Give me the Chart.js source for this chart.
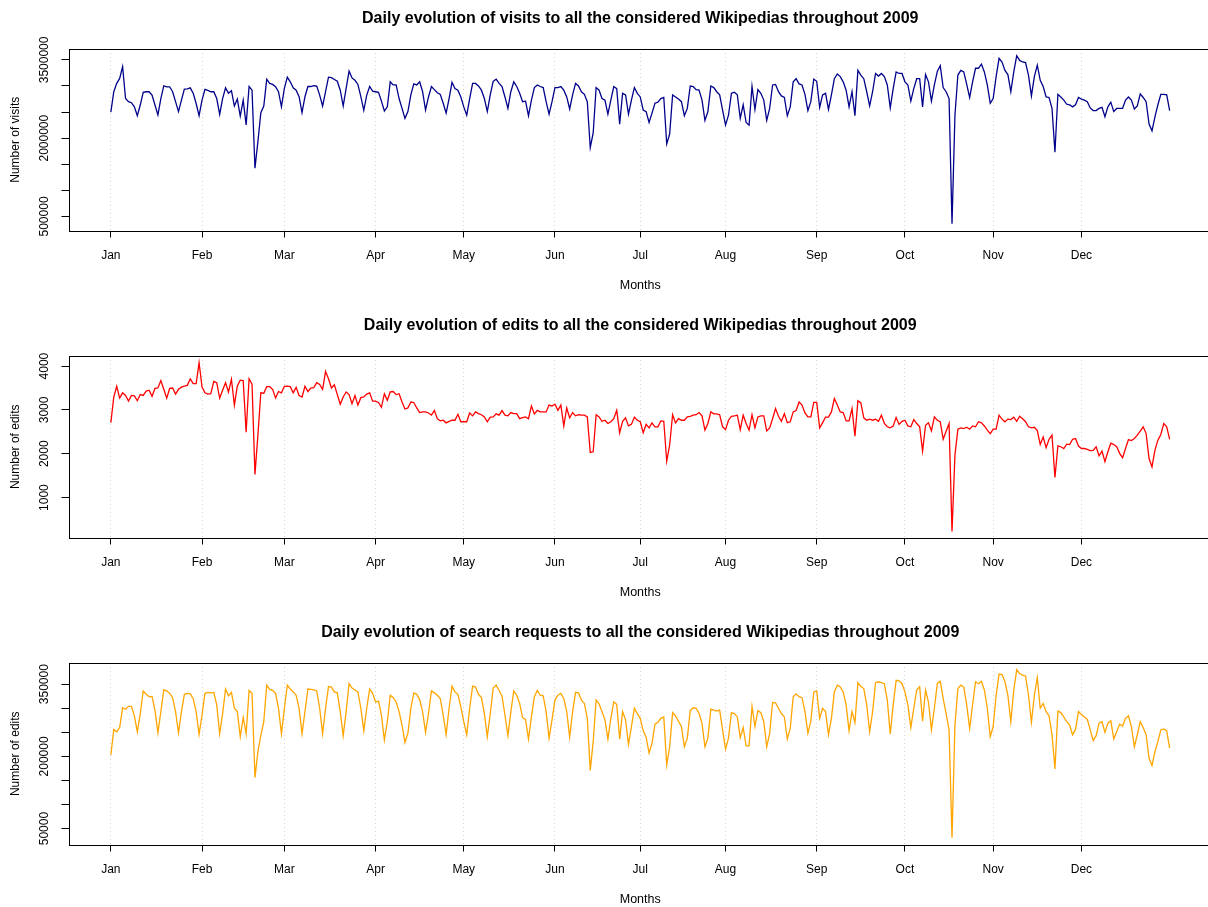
<!DOCTYPE html>
<html>
<head>
<meta charset="utf-8">
<title>Wikipedia daily evolution 2009</title>
<script src="https://cdn.jsdelivr.net/npm/chart.js@4.4.0/dist/chart.umd.min.js"></script>
<style>
  html, body { margin: 0; padding: 0; background: #fff; overflow: hidden; width: 1208px; height: 907px; }
  .panel { position: absolute; left: 0; width: 1240px; height: 307px; }
</style>
</head>
<body>
<div class="panel" style="top:0px"><canvas id="visitsChart" width="1240" height="307"></canvas></div>
<div class="panel" style="top:307px"><canvas id="editsChart" width="1240" height="307"></canvas></div>
<div class="panel" style="top:614px"><canvas id="searchChart" width="1240" height="307"></canvas></div>
<script>
// month ticks (index of first day of each month in the series)
const monthStarts = [0, 31, 59, 90, 120, 151, 180, 209, 240, 270, 300, 330];
const monthLabels = ["Jan", "Feb", "Mar", "Apr", "May", "Jun", "Jul", "Aug", "Sep", "Oct", "Nov", "Dec"];

// daily visits, in thousands
const visitsK = [
  2500, 2890, 3050, 3145, 3370, 2760, 2700, 2680, 2600, 2430,
  2635, 2880, 2890, 2890, 2825, 2635, 2445, 2760, 3005, 2985,
  2985, 2890, 2700, 2510, 2730, 2940, 2945, 2965, 2860, 2665,
  2430, 2730, 2935, 2915, 2890, 2890, 2760, 2455, 2760, 2965,
  2860, 2910, 2615, 2750, 2425, 2730, 2255, 2990, 2920, 1425,
  1935, 2490, 2615, 3130, 3050, 3030, 2985, 2890, 2600, 2955,
  3170, 3080, 2965, 2920, 2795, 2490, 2795, 2990, 2990, 3005,
  3000, 2825, 2615, 2890, 3170, 3160, 3125, 3090, 2920, 2615,
  2955, 3285, 3155, 3110, 3030, 2795, 2535, 2825, 2990, 2900,
  2890, 2880, 2710, 2520, 2600, 3080, 3020, 3020, 2760, 2570,
  2380, 2510, 2830, 3040, 3020, 3080, 2890, 2540, 2790, 2990,
  2930, 2870, 2840, 2670, 2480, 2760, 3070, 2950, 2920, 2790,
  2600, 2440, 2760, 3050, 3050, 3000, 2920, 2760, 2510, 2830,
  3090, 3130, 3050, 2990, 2790, 2570, 2890, 3080, 2990, 2860,
  2700, 2710, 2430, 2730, 2970, 3020, 2990, 2970, 2700, 2460,
  2700, 2970, 2970, 2990, 2920, 2790, 2560, 2830, 3050, 3000,
  2890, 2840, 2700, 1820, 2100, 2970, 2920, 2760, 2730, 2460,
  2730, 2990, 2950, 2270, 2860, 2830, 2460, 2730, 2970, 2860,
  2790, 2540, 2510, 2300, 2480, 2670, 2690, 2760, 2780, 1890,
  2080, 2830, 2790, 2750, 2700, 2430, 2570, 3000, 2990, 2930,
  2920, 2730, 2340, 2510, 3000, 2970, 2890, 2830, 2540, 2250,
  2440, 2860, 2880, 2830, 2380, 2640, 2300, 2250, 2990, 2550,
  2930, 2860, 2730, 2340, 2570, 3020, 3030, 2890, 2810, 2780,
  2430, 2600, 3080, 3140, 3040, 3020, 2840, 2530, 2700, 3130,
  3090, 2590, 2830, 2860, 2550, 2830, 3140, 3230, 3180, 3080,
  2920, 2600, 2890, 2430, 3300, 3210, 3140, 2890, 2620, 2890,
  3240, 3190, 3240, 3180, 3020, 2580, 2950, 3270, 3240, 3240,
  3080, 3020, 2710, 2950, 3140, 3140, 2600, 3220, 3080, 2710,
  3020, 3280, 3390, 2970, 2890, 2760, 360, 2440, 3210, 3300,
  3270, 3030, 2780, 3080, 3340, 3340, 3420, 3270, 3020, 2670,
  2760, 3180, 3530, 3460, 3300, 3220, 2890, 3270, 3580, 3490,
  3460, 3450, 3210, 2810, 3180, 3400, 3110, 2990, 2790, 2780,
  2570, 1730, 2840, 2790, 2730, 2650, 2640, 2600, 2640, 2780,
  2750, 2730, 2700, 2580, 2530, 2530, 2570, 2590, 2410, 2600,
  2690, 2510, 2570, 2570, 2570, 2730, 2790, 2730, 2560, 2620,
  2850, 2780, 2700, 2270, 2140, 2410, 2640, 2840, 2840, 2830, 2530
];

// daily edits
const edits = [
  2710, 3295, 3540, 3270, 3390, 3330, 3200, 3330, 3320, 3210,
  3350, 3330, 3430, 3450, 3310, 3490, 3500, 3670, 3470, 3270,
  3490, 3500, 3360, 3470, 3520, 3545, 3560, 3710, 3600, 3600,
  4075, 3520, 3390, 3360, 3370, 3650, 3620, 3270, 3450, 3620,
  3410, 3700, 3110, 3545, 3680, 3670, 2490, 3710, 3590, 1530,
  2425, 3390, 3380, 3530, 3530, 3470, 3270, 3420, 3390, 3540,
  3545, 3530, 3390, 3515, 3330, 3295, 3540, 3420, 3500, 3510,
  3620, 3580, 3470, 3880, 3710, 3500, 3575, 3350, 3130, 3295,
  3410, 3350, 3140, 3330, 3110, 3280, 3295, 3360, 3390, 3200,
  3200, 3170, 3060, 3370, 3220, 3410, 3420, 3350, 3370, 3180,
  3020, 3045, 3180, 3170, 3045, 2940, 2955, 2955, 2930, 2880,
  2985, 2800, 2750, 2765, 2705, 2740, 2765, 2765, 2900, 2730,
  2730, 2730, 2930, 2865, 2955, 2915, 2890, 2840, 2730, 2835,
  2840, 2910, 2880, 2985, 2880, 2865, 2940, 2915, 2915, 2800,
  2825, 2840, 2800, 3090, 2910, 2990, 2955, 2955, 2955, 3110,
  3090, 3130, 2990, 3110, 2635, 3045, 2820, 2940, 2865, 2890,
  2880, 2880, 2840, 2030, 2045, 2890, 2840, 2740, 2765, 2690,
  2730, 2800, 2990, 2480, 2740, 2820, 2635, 2670, 2835, 2765,
  2730, 2480, 2670, 2590, 2705, 2615, 2615, 2750, 2740, 1830,
  2200, 2890, 2705, 2800, 2765, 2765, 2840, 2855, 2880, 2890,
  2940, 2865, 2540, 2690, 2955, 2910, 2910, 2890, 2615, 2550,
  2765, 2855, 2865, 2880, 2550, 2880, 2690, 2540, 2890, 2590,
  2840, 2865, 2865, 2520, 2590, 2800, 3030, 2855, 2740, 2915,
  2710, 2730, 2955, 2985, 3180, 3110, 2930, 2840, 2840, 3170,
  3170, 2590, 2710, 2835, 2835, 2955, 3260, 3110, 2955, 2940,
  2750, 2750, 3030, 2400, 3210, 3160, 2820, 2765, 2790, 2765,
  2790, 2740, 2880, 2690, 2615, 2590, 2630, 2825, 2670, 2740,
  2765, 2635, 2615, 2780, 2690, 2615, 2060, 2650, 2705, 2520,
  2840, 2765, 2730, 2330, 2515, 2690, 230, 1970, 2560, 2590,
  2575, 2605, 2560, 2635, 2615, 2730, 2705, 2635, 2540, 2460,
  2560, 2560, 2880, 2790, 2730, 2790, 2780, 2835, 2740, 2855,
  2800, 2730, 2615, 2590, 2605, 2530, 2210, 2380, 2140, 2330,
  2425, 1460, 2180, 2160, 2120, 2220, 2210, 2330, 2350, 2175,
  2120, 2120, 2100, 2070, 2075, 2160, 1955, 2060, 1820, 2045,
  2240, 2210, 2160, 2010, 1910, 2120, 2325, 2300, 2350, 2425,
  2515, 2615, 2460, 1890, 1700, 2085, 2310, 2440, 2690, 2615, 2330
];

// daily search requests, in thousands
const searchK = [
  203, 256, 251, 260, 301, 298, 304, 304, 284, 251,
  289, 336, 329, 324, 324, 296, 249, 293, 338, 336,
  331, 322, 293, 249, 293, 329, 331, 330, 320, 293,
  246, 286, 331, 333, 332, 333, 307, 247, 289, 340,
  326, 333, 300, 293, 241, 281, 247, 337, 331, 156,
  210, 244, 272, 348, 339, 337, 331, 300, 247, 300,
  348, 340, 334, 327, 300, 247, 293, 340, 339, 338,
  336, 300, 247, 300, 345, 344, 334, 332, 293, 243,
  293, 351, 342, 338, 334, 300, 253, 300, 340, 331,
  313, 315, 286, 234, 272, 327, 322, 313, 293, 265,
  229, 248, 300, 332, 329, 318, 293, 250, 289, 336,
  332, 327, 320, 286, 245, 300, 346, 334, 329, 303,
  272, 245, 300, 346, 344, 329, 322, 289, 241, 289,
  342, 348, 337, 325, 286, 243, 293, 336, 327, 310,
  280, 277, 236, 282, 324, 337, 327, 326, 293, 238,
  276, 317, 327, 331, 320, 293, 240, 293, 333, 332,
  317, 310, 279, 171, 231, 317, 309, 293, 276, 236,
  279, 313, 308, 236, 293, 276, 225, 262, 300, 289,
  279, 253, 240, 207, 227, 267, 271, 279, 282, 182,
  220, 291, 284, 273, 262, 220, 238, 295, 301, 300,
  289, 269, 220, 238, 298, 296, 294, 296, 255, 215,
  238, 291, 289, 282, 239, 260, 222, 222, 304, 262,
  295, 291, 272, 220, 248, 312, 311, 300, 289, 282,
  236, 258, 324, 330, 324, 322, 293, 248, 273, 334,
  336, 279, 300, 293, 245, 279, 334, 348, 344, 334,
  307, 253, 293, 270, 353, 345, 341, 307, 251, 293,
  353, 355, 353, 351, 317, 246, 307, 358, 357, 351,
  334, 307, 260, 300, 338, 345, 273, 338, 313, 255,
  300, 351, 356, 320, 289, 255, 31, 265, 341, 348,
  344, 307, 258, 307, 355, 351, 356, 338, 300, 241,
  262, 327, 371, 370, 355, 327, 272, 338, 380, 372,
  369, 367, 327, 271, 327, 364, 300, 310, 293, 284,
  245, 174, 294, 291, 282, 272, 265, 245, 256, 293,
  287, 282, 277, 255, 233, 243, 269, 272, 250, 269,
  274, 236, 251, 267, 263, 279, 284, 262, 220, 245,
  272, 260, 245, 196, 181, 210, 231, 255, 257, 253, 217
];

// y axis ticks and the ones that carry a label
const visitsTicks = [500000, 1000000, 1500000, 2000000, 2500000, 3000000, 3500000];
const visitsTickLabels = [500000, 2000000, 3500000];
const editsTicks = [1000, 2000, 3000, 4000];
const editsTickLabels = [1000, 2000, 3000, 4000];
const searchTicks = [50000, 100000, 150000, 200000, 250000, 300000, 350000];
const searchTickLabels = [50000, 200000, 350000];

const FONT = '"Liberation Sans", Arial, Helvetica, sans-serif';

// box, main title and rotated y labels, like base R graphics
const rDecor = {
  id: "rDecor",
  afterDraw(chart, args, opts) {
    const ctx = chart.ctx;
    const a = chart.chartArea;
    ctx.save();
    ctx.strokeStyle = "#000";
    ctx.lineWidth = 1;
    ctx.strokeRect(Math.round(a.left) + 0.5, Math.round(a.top) + 0.5,
      Math.round(a.right - a.left), Math.round(a.bottom - a.top));

    ctx.fillStyle = "#000";
    ctx.textAlign = "center";
    ctx.textBaseline = "middle";
    ctx.font = "bold 16px " + FONT;
    ctx.fillText(opts.title, (a.left + a.right) / 2, 18.5);

    ctx.font = "12px " + FONT;
    const yScale = chart.scales.y;
    opts.labels.forEach(v => {
      const py = yScale.getPixelForValue(v);
      ctx.save();
      ctx.translate(45, py);
      ctx.rotate(-Math.PI / 2);
      ctx.fillText(String(v), 0, 0);
      ctx.restore();
    });
    ctx.restore();
  }
};

function makePanel(id, title, yTitle, points, color, yMin, yMax, yTicks, yLabels) {
  const ctx = document.getElementById(id).getContext("2d");
  return new Chart(ctx, {
    type: "line",
    data: {
      datasets: [{
        data: points,
        borderColor: color,
        borderWidth: 1.3,
        pointRadius: 0,
        fill: false,
        tension: 0,
      }],
    },
    options: {
      responsive: false,
      animation: false,
      layout: { padding: { top: 49, right: 28, left: 0, bottom: 0 } },
      plugins: {
        legend: { display: false },
        tooltip: { enabled: false },
        rDecor: { title: title, labels: yLabels },
      },
      scales: {
        x: {
          type: "linear",
          min: -14.4,
          max: 374.4,
          afterBuildTicks: s => { s.ticks = monthStarts.map(v => ({ value: v })); },
          afterFit: s => { s.height = 76.5; },
          ticks: {
            autoSkip: false,
            maxRotation: 0,
            padding: 10.5,
            color: "#000",
            font: { family: FONT, size: 12 },
            callback: v => monthLabels[monthStarts.indexOf(v)],
          },
          grid: {
            color: "#d3d3d3",
            lineWidth: 1,
            drawOnChartArea: true,
            drawTicks: true,
            tickLength: 7,
            tickColor: "#000",
            tickWidth: 1,
            tickBorderDash: [],
          },
          border: { display: false, dash: [1, 3] },
          title: {
            display: true,
            text: "Months",
            color: "#000",
            font: { family: FONT, size: 12.5 },
            padding: { top: 0, bottom: 13.8 },
          },
        },
        y: {
          min: yMin,
          max: yMax,
          afterBuildTicks: s => { s.ticks = yTicks.map(v => ({ value: v })); },
          afterFit: s => { s.width = 68.5; },
          ticks: { display: false },
          grid: {
            drawOnChartArea: false,
            drawTicks: true,
            tickLength: 7,
            tickColor: "#000",
            tickWidth: 1,
          },
          border: { display: false },
          title: {
            display: true,
            text: yTitle,
            color: "#000",
            font: { family: FONT, size: 12 },
            padding: { top: 8, bottom: 0 },
          },
        },
      },
    },
    plugins: [rDecor],
  });
}

makePanel("visitsChart",
  "Daily evolution of visits to all the considered Wikipedias throughout 2009",
  "Number of visits",
  visitsK.map((v, i) => ({ x: i, y: v * 1000 })),
  "#00008B", 231000, 3709000, visitsTicks, visitsTickLabels);

makePanel("editsChart",
  "Daily evolution of edits to all the considered Wikipedias throughout 2009",
  "Number of edits",
  edits.map((v, i) => ({ x: i, y: v })),
  "#FF0000", 90, 4230, editsTicks, editsTickLabels);

makePanel("searchChart",
  "Daily evolution of search requests to all the considered Wikipedias throughout 2009",
  "Number of edits",
  searchK.map((v, i) => ({ x: i, y: v * 1000 })),
  "#FFA500", 17000, 394000, searchTicks, searchTickLabels);
</script>
</body>
</html>
